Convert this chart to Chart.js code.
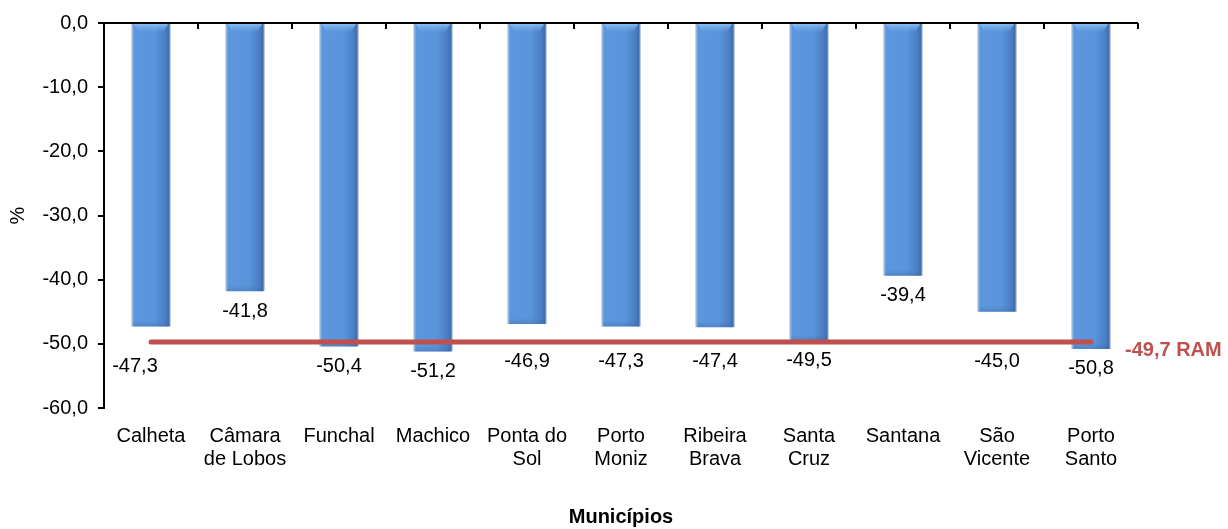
<!DOCTYPE html>
<html lang="pt">
<head>
<meta charset="UTF-8">
<title>Municípios</title>
<style>
    * { margin: 0; padding: 0; box-sizing: border-box; }
    body { background: #fff; width: 1228px; height: 529px; overflow: hidden; }
    .chart-box { position: relative; width: 1228px; height: 529px; }
</style>
</head>
<body>
<div class="chart-box"><canvas id="chart" width="1228" height="529"></canvas></div>
<script src="https://cdn.jsdelivr.net/npm/chart.js"></script>
<script>
// Data
const municipios = [['Calheta'], ['Câmara', 'de Lobos'], ['Funchal'], ['Machico'], ['Ponta do', 'Sol'],
    ['Porto', 'Moniz'], ['Ribeira', 'Brava'], ['Santa', 'Cruz'], ['Santana'], ['São', 'Vicente'], ['Porto', 'Santo']];
const variacao = [-47.3, -41.8, -50.4, -51.2, -46.9, -47.3, -47.4, -49.5, -39.4, -45.0, -50.8];
const mediaRAM = -49.7;
const mediaLabel = 'RAM';
const yTicks = [0, -10, -20, -30, -40, -50, -60];

const FONT = '"Liberation Sans", Arial, sans-serif';
const RED = '#c0504d';
const BAR_PCT = 0.42;

function fmt(v) {
    return v.toFixed(1).replace('.', ',');
}

// horizontal shading on each bar
function barFill(ctx) {
    const chart = ctx.chart;
    const xs = chart.scales.x;
    if (ctx.type !== 'data' || !xs || !chart.chartArea) return '#5b96dc';
    const cx = xs.getPixelForValue(ctx.dataIndex);
    const w = xs.width / municipios.length * BAR_PCT;
    const g = chart.ctx.createLinearGradient(cx - w / 2, 0, cx + w / 2, 0);
    g.addColorStop(0, '#c3cfdd');
    g.addColorStop(0.07, '#5c97dd');
    g.addColorStop(0.6, '#5a94da');
    g.addColorStop(0.85, '#4b7fc5');
    g.addColorStop(0.95, '#4070ae');
    g.addColorStop(1, '#b9c6d5');
    return g;
}

const extras = {
    id: 'extras',
    afterDatasetsDraw(chart) {
        const ctx = chart.ctx;
        const x = chart.scales.x;
        const y = chart.scales.y;
        const meta = chart.getDatasetMeta(0);
        const y0 = y.getPixelForValue(0);

        // bevel highlight at the top, darker lip at the end
        meta.data.forEach(bar => {
            const w = bar.width;
            const l = bar.x - w / 2;
            let g = ctx.createLinearGradient(0, y0, 0, y0 + 10);
            g.addColorStop(0, 'rgba(150,200,250,0.95)');
            g.addColorStop(1, 'rgba(110,165,230,0)');
            ctx.fillStyle = g;
            ctx.beginPath();
            ctx.moveTo(l + 2, y0);
            ctx.lineTo(l + w - 2, y0);
            ctx.lineTo(l + w - 8, y0 + 10);
            ctx.lineTo(l + 8, y0 + 10);
            ctx.closePath();
            ctx.fill();
            g = ctx.createLinearGradient(0, bar.y - 6, 0, bar.y);
            g.addColorStop(0, 'rgba(60,100,160,0)');
            g.addColorStop(1, 'rgba(60,100,160,0.35)');
            ctx.fillStyle = g;
            ctx.fillRect(l + 2, bar.y - 6, w - 4, 6);
        });

        // axis line along zero with category ticks
        ctx.save();
        ctx.strokeStyle = '#000';
        ctx.lineWidth = 2;
        ctx.beginPath();
        ctx.moveTo(x.left - 1, y0);
        ctx.lineTo(x.right, y0);
        const step = x.width / municipios.length;
        for (let i = 1; i <= municipios.length; i++) {
            const px = Math.round(x.left + i * step);
            ctx.moveTo(px, y0);
            ctx.lineTo(px, y0 + 6);
        }
        ctx.stroke();

        // RAM average line
        const lineY = y.getPixelForValue(mediaRAM);
        const x1 = x.getPixelForValue(0);
        const x2 = x.getPixelForValue(municipios.length - 1);
        ctx.strokeStyle = RED;
        ctx.lineWidth = 5;
        ctx.lineCap = 'round';
        ctx.beginPath();
        ctx.moveTo(x1, lineY);
        ctx.lineTo(x2, lineY);
        ctx.stroke();

        // value labels, pushed below the RAM line when they would overlap it
        ctx.font = '20px ' + FONT;
        ctx.fillStyle = '#000';
        ctx.textAlign = 'center';
        ctx.textBaseline = 'middle';
        meta.data.forEach((bar, i) => {
            let ty = bar.y + 20;
            let tx = bar.x;
            if (Math.abs(ty - lineY) < 14) {
                ty = lineY + 20;
                if (i === 0) { tx -= 16; ty += 5; }
            }
            ctx.fillText(fmt(variacao[i]), tx, ty);
        });

        // RAM label
        ctx.font = 'bold 20px ' + FONT;
        ctx.fillStyle = RED;
        ctx.textAlign = 'left';
        ctx.fillText(fmt(mediaRAM) + ' ' + mediaLabel, x2 + 34, lineY + 9);
        ctx.restore();
    }
};

new Chart(document.getElementById('chart'), {
    type: 'bar',
    data: {
        labels: municipios,
        datasets: [{
            data: variacao,
            backgroundColor: barFill,
            borderWidth: 0,
            barPercentage: BAR_PCT,
            categoryPercentage: 1
        }]
    },
    options: {
        responsive: false,
        animation: false,
        layout: { padding: { top: 23, right: 90, left: 0, bottom: 0 } },
        plugins: {
            legend: { display: false },
            tooltip: { enabled: false }
        },
        scales: {
            x: {
                grid: { display: false, drawTicks: false },
                border: { display: false },
                ticks: {
                    color: '#000',
                    font: { family: FONT, size: 20, lineHeight: 1.15 },
                    maxRotation: 0,
                    autoSkip: false,
                    padding: 17
                },
                title: {
                    display: true,
                    text: 'Municípios',
                    color: '#000',
                    font: { family: FONT, size: 20, weight: 'bold' },
                    padding: { top: 0, bottom: 0 }
                },
                afterFit(scale) { scale.height = 121; }
            },
            y: {
                min: -60,
                max: 0,
                afterBuildTicks(scale) { scale.ticks = yTicks.map(v => ({ value: v })); },
                grid: { drawOnChartArea: false, drawTicks: true, tickLength: 6, color: '#000', lineWidth: 2 },
                border: { display: true, color: '#000', width: 2 },
                ticks: {
                    color: '#000',
                    font: { family: FONT, size: 20 },
                    padding: 10,
                    callback: v => fmt(v)
                },
                title: {
                    display: true,
                    text: '%',
                    color: '#000',
                    font: { family: FONT, size: 20 },
                    padding: { top: 6, bottom: 0 }
                },
                afterFit(scale) { scale.width = 104; }
            }
        }
    },
    plugins: [extras]
});
</script>
</body>
</html>
